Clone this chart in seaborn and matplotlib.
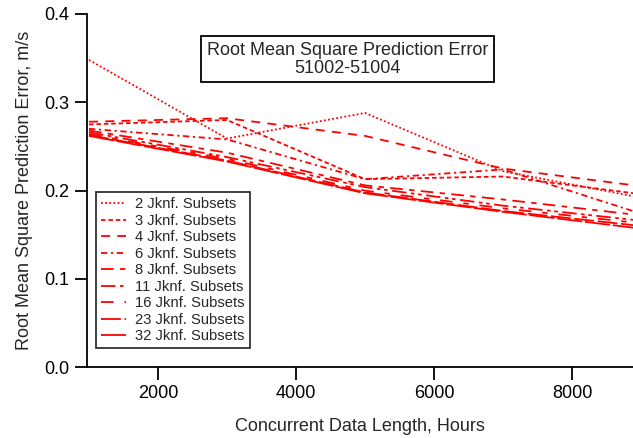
import matplotlib
matplotlib.use("Agg")
import matplotlib.pyplot as plt
import seaborn as sns
import pandas as pd

# Concurrent data length (hours) at which each jackknife run was evaluated
hours = [1000, 3000, 5000, 7000, 9000]

# RMS prediction error (m/s) for each number of jackknife subsets
rmse_2 = [0.348, 0.259, 0.288, 0.222, 0.192]
rmse_3 = [0.275, 0.280, 0.213, 0.216, 0.196]
rmse_4 = [0.278, 0.282, 0.262, 0.225, 0.205]
rmse_6 = [0.270, 0.258, 0.213, 0.224, 0.174]
rmse_8 = [0.268, 0.243, 0.206, 0.190, 0.172]
rmse_11 = [0.266, 0.238, 0.204, 0.183, 0.166]
rmse_16 = [0.264, 0.236, 0.200, 0.180, 0.163]
rmse_23 = [0.263, 0.234, 0.198, 0.177, 0.160]
rmse_32 = [0.262, 0.233, 0.197, 0.176, 0.157]

labels = ["2 Jknf. Subsets", "3 Jknf. Subsets", "4 Jknf. Subsets",
          "6 Jknf. Subsets", "8 Jknf. Subsets", "11 Jknf. Subsets",
          "16 Jknf. Subsets", "23 Jknf. Subsets", "32 Jknf. Subsets"]
series = [rmse_2, rmse_3, rmse_4, rmse_6, rmse_8, rmse_11, rmse_16,
          rmse_23, rmse_32]

df = pd.DataFrame({
    "hours": [h for _ in series for h in hours],
    "rmse": [v for s in series for v in s],
    "subsets": [lab for lab in labels for _ in hours],
})

# dash patterns (in units of line width)
dash_styles = {
    "2 Jknf. Subsets": (1, 1.3),
    "3 Jknf. Subsets": (2.5, 1.6),
    "4 Jknf. Subsets": (5, 4),
    "6 Jknf. Subsets": (3.5, 2, 1.2, 2),
    "8 Jknf. Subsets": (7, 3.5, 3, 3.5),
    "11 Jknf. Subsets": (8, 2.5, 2, 2, 2, 2.5),
    "16 Jknf. Subsets": (7, 6, 3, 6),
    "23 Jknf. Subsets": (11, 2),
    "32 Jknf. Subsets": (14, 1.5),
}

sns.set_style("ticks")
plt.rcParams["font.family"] = ["Liberation Sans", "DejaVu Sans"]

FS = 13

fig = plt.figure(figsize=(6.33, 4.38), dpi=100)
ax = fig.add_axes([87 / 633, 70.7 / 438, 546 / 633, 353.3 / 438])

sns.lineplot(data=df, x="hours", y="rmse", style="subsets",
             style_order=labels, dashes=dash_styles, color="red",
             linewidth=1.3, ax=ax, legend=True, sort=False)

ax.set_xlim(971, 8884)
ax.set_ylim(0, 0.4)
ax.set_xticks([2000, 4000, 6000, 8000])
ax.set_yticks([0.0, 0.1, 0.2, 0.3, 0.4])
ax.yaxis.set_major_formatter(matplotlib.ticker.FormatStrFormatter("%.1f"))
ax.tick_params(axis="both", direction="out", length=9, width=1.3,
               labelsize=FS, colors="black", pad=4)
ax.tick_params(axis="x", pad=4)
for side in ("top", "right"):
    ax.spines[side].set_visible(False)
for side in ("left", "bottom"):
    ax.spines[side].set_linewidth(1.3)
    ax.spines[side].set_color("black")

ax.set_xlabel("Concurrent Data Length, Hours", fontsize=FS, labelpad=11)
ax.set_ylabel("Root Mean Square Prediction Error, m/s", fontsize=FS,
              labelpad=8)

ax.text(0.477, 0.872, "Root Mean Square Prediction Error\n51002-51004",
        transform=ax.transAxes, ha="center", va="center", fontsize=FS,
        linespacing=1.05,
        bbox=dict(boxstyle="square,pad=0.3", facecolor="white",
                  edgecolor="black", linewidth=1.3))

handles, hlabels = ax.get_legend_handles_labels()
leg = ax.legend(handles, hlabels, loc="upper left",
                bbox_to_anchor=(0.017, 0.496), fontsize=10.6, frameon=True,
                fancybox=False, handlelength=1.7, handletextpad=0.6,
                labelspacing=0.17, borderpad=0.35, borderaxespad=0)
leg.get_frame().set_edgecolor("black")
leg.get_frame().set_linewidth(1.3)
for line in leg.get_lines():
    line.set_color("red")
    line.set_linewidth(1.3)

fig.savefig("out.png", dpi=100)
